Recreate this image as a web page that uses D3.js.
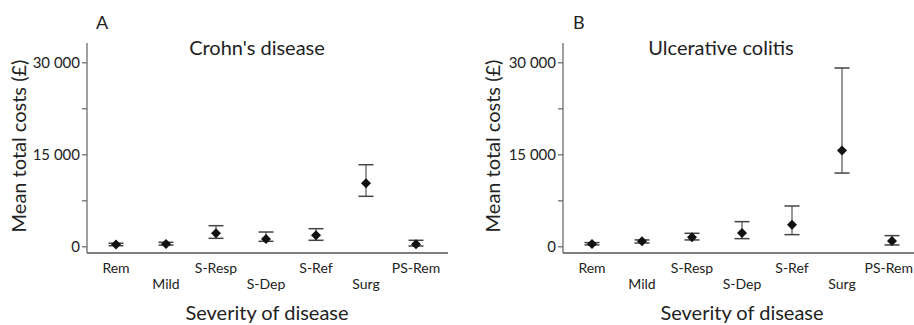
<!DOCTYPE html>
<html>
<head>
<meta charset="utf-8">
<script src="https://cdn.jsdelivr.net/npm/d3@7"></script>
<style>
  html, body { margin: 0; padding: 0; background: #fff; }
  svg { display: block; }
  text { font-family: Lato, "Open Sans", sans-serif; fill: #222; }
</style>
</head>
<body>
<svg id="chart" width="914" height="325"></svg>
<script>
const categories = ["Rem", "Mild", "S-Resp", "S-Dep", "S-Ref", "Surg", "PS-Rem"];
const yTicks = [0, 7500, 15000, 22500, 30000];
const yTickLabels = ["0", "", "15 000", "", "30 000"];

const cdMean = [280, 370, 2120, 1190, 1790, 10270, 330];
const cdLow  = [100, 200, 1300, 815, 980, 8150, 50];
const cdHigh = [500, 650, 3360, 2330, 2870, 13300, 980];

const ucMean = [380, 815, 1460, 2170, 3530, 15620, 870];
const ucLow  = [220, 540, 1040, 1250, 1900, 11940, 220];
const ucHigh = [600, 1040, 2120, 4020, 6570, 29070, 1740];

const svg = d3.select("#chart");
const W = 914;

function drawPanel(cfg) {
  const ax = cfg.axisX;          // y-axis line x
  const baseY = 253;             // x-axis line y
  const topY = 43;
  const rightX = ax + 361;

  const x = d3.scalePoint().domain(categories).range([ax + 29, ax + 329]);
  const y = d3.scaleLinear().domain([0, 30000]).range([246.3, 62.3]);

  const g = svg.append("g");

  // frame lines
  g.append("line").attr("x1", ax).attr("x2", ax).attr("y1", topY).attr("y2", baseY)
    .attr("stroke", "#777").attr("stroke-width", 1.4);
  g.append("line").attr("x1", ax).attr("x2", rightX).attr("y1", baseY).attr("y2", baseY)
    .attr("stroke", "#555").attr("stroke-width", 1.4);

  // y axis ticks
  const yAxis = d3.axisLeft(y).tickValues(yTicks).tickSize(5).tickPadding(2)
    .tickFormat((d, i) => yTickLabels[i]);
  const ya = g.append("g").attr("transform", `translate(${ax},0)`).call(yAxis);
  ya.select(".domain").remove();
  ya.selectAll(".tick line").attr("stroke", "#666").attr("stroke-width", 1.2);
  ya.selectAll(".tick text").attr("font-size", 15).attr("fill", "#333")
    .attr("font-family", "Lato, 'Open Sans', sans-serif");

  // x labels (alternating rows)
  g.selectAll(".xl").data(categories).enter().append("text")
    .attr("x", d => x(d))
    .attr("y", (d, i) => i % 2 === 0 ? 273 : 289)
    .attr("text-anchor", "middle")
    .attr("font-size", 14)
    .attr("fill", "#333")
    .text(d => d)
    .each(function(d) {
      // keep labels inside the picture
      const len = this.getComputedTextLength();
      const cx = x(d);
      if (cx + len / 2 > W - 1) {
        d3.select(this).attr("text-anchor", "end").attr("x", W - 1);
      }
    });

  const data = categories.map((c, i) => ({c, m: cfg.mean[i], lo: cfg.low[i], hi: cfg.high[i]}));

  // error bars
  const eb = g.selectAll(".eb").data(data).enter().append("g");
  eb.append("line").attr("x1", d => x(d.c)).attr("x2", d => x(d.c))
    .attr("y1", d => y(d.lo)).attr("y2", d => y(d.hi))
    .attr("stroke", "#777").attr("stroke-width", 1.5);
  eb.append("line").attr("x1", d => x(d.c) - 7.5).attr("x2", d => x(d.c) + 7.5)
    .attr("y1", d => y(d.hi)).attr("y2", d => y(d.hi))
    .attr("stroke", "#444").attr("stroke-width", 1.5);
  eb.append("line").attr("x1", d => x(d.c) - 7.5).attr("x2", d => x(d.c) + 7.5)
    .attr("y1", d => y(d.lo)).attr("y2", d => y(d.lo))
    .attr("stroke", "#444").attr("stroke-width", 1.5);

  // diamonds
  const sym = d3.symbol().type(d3.symbolSquare).size(50);
  g.selectAll(".pt").data(data).enter().append("path")
    .attr("d", sym)
    .attr("transform", d => `translate(${x(d.c)},${y(d.m)}) rotate(45)`)
    .attr("fill", "#111");

  // titles and labels
  g.append("text").attr("x", cfg.letterX).attr("y", 29).attr("font-size", 18)
    .attr("fill", "#222").text(cfg.letter);
  g.append("text").attr("x", cfg.titleX).attr("y", 55).attr("text-anchor", "middle")
    .attr("font-size", 20).attr("fill", "#222").text(cfg.title);
  g.append("text").attr("x", cfg.xLabelX).attr("y", 320).attr("text-anchor", "middle")
    .attr("font-size", 20).attr("fill", "#222").text("Severity of disease");
  g.append("text")
    .attr("transform", `translate(${cfg.yLabelX},146) rotate(-90)`)
    .attr("text-anchor", "middle").attr("dy", "0.35em")
    .attr("font-size", 20).attr("fill", "#222").text("Mean total costs (£)");
}

drawPanel({axisX: 87, mean: cdMean, low: cdLow, high: cdHigh,
  letter: "A", letterX: 96, title: "Crohn's disease", titleX: 257,
  xLabelX: 267, yLabelX: 19});
drawPanel({axisX: 563, mean: ucMean, low: ucLow, high: ucHigh,
  letter: "B", letterX: 573, title: "Ulcerative colitis", titleX: 721,
  xLabelX: 742, yLabelX: 493});
</script>
</body>
</html>
